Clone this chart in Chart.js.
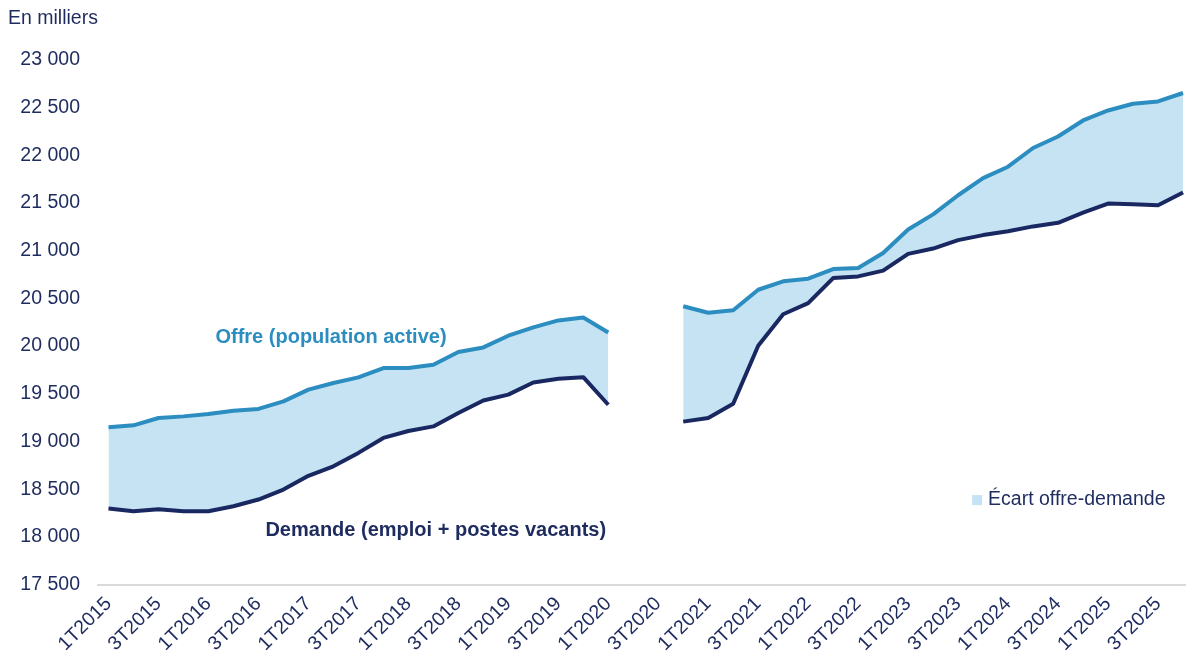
<!DOCTYPE html>
<html lang="fr">
<head>
<meta charset="utf-8">
<title>Offre et demande de travail</title>
<script src="https://cdn.jsdelivr.net/npm/chart.js@4.4.1/dist/chart.umd.min.js"></script>
<style>
  html, body { margin: 0; padding: 0; background: #fff; overflow: hidden; }
  #myChart { display: block; }
</style>
</head>
<body>
<canvas id="myChart" width="1186" height="654"></canvas>
<script>
'use strict';

// trimestres 1T2015 ... 4T2025
let years = [2015, 2016, 2017, 2018, 2019, 2020, 2021, 2022, 2023, 2024, 2025];
let quarters = [];
for (let i = 0; i < years.length; i++) {
    for (let q = 1; q <= 4; q++) {
        quarters.push(q + 'T' + years[i]);
    }
}

// en milliers, pas de donnees 2T2020 et 3T2020
let offre = [19148, 19169, 19246, 19263, 19288, 19323, 19341, 19420, 19543, 19613, 19672, 19770,
    19770, 19805, 19938, 19986, 20109, 20196, 20269, 20300, 20143, null, null, 20418,
    20350, 20376, 20591, 20679, 20707, 20808, 20819, 20977, 21223, 21381, 21582, 21761,
    21881, 22077, 22198, 22366, 22471, 22541, 22566, 22654];

let demande = [18296, 18268, 18290, 18268, 18268, 18320, 18391, 18495, 18640, 18739, 18880, 19037,
    19110, 19158, 19299, 19430, 19491, 19619, 19658, 19674, 19385, null, null, 19208,
    19245, 19395, 20004, 20334, 20450, 20713, 20731, 20791, 20967, 21023, 21111, 21164,
    21205, 21255, 21293, 21399, 21494, 21487, 21477, 21610];

let yMin = 17500;
let yMax = 23000;
let yStep = 500;

let navy = '#1E2B5E';
let blue = '#2B8DC0';
let dark = '#1A2862';
let ecart = '#C5E3F3';
let fontName = '"Liberation Sans", Arial, Helvetica, sans-serif';

function formatNb(v) {
    return String(v).replace(/\B(?=(\d{3})+(?!\d))/g, ' ');
}

function toPoints(arr) {
    let pts = [];
    for (let i = 0; i < arr.length; i++) {
        pts.push({ x: i, y: arr[i] });
    }
    return pts;
}

let textes = {
    id: 'textes',
    afterDraw(chart) {
        let ctx = chart.ctx;
        let x = chart.scales.x;
        let y = chart.scales.y;
        ctx.save();
        ctx.textBaseline = 'middle';
        ctx.textAlign = 'left';

        ctx.font = '19.5px ' + fontName;
        ctx.fillStyle = navy;
        ctx.fillText('En milliers', 8, 19);

        ctx.font = 'bold 20px ' + fontName;
        ctx.fillStyle = blue;
        ctx.fillText('Offre (population active)', x.getPixelForValue(4.28), y.getPixelForValue(20090));

        ctx.fillStyle = navy;
        ctx.fillText('Demande (emploi + postes vacants)', x.getPixelForValue(6.28), y.getPixelForValue(18070));

        // legende
        let lx = x.getPixelForValue(34.56);
        let ly = y.getPixelForValue(18385);
        ctx.fillStyle = ecart;
        ctx.fillRect(lx, ly - 5, 10, 10);
        ctx.font = '19.5px ' + fontName;
        ctx.fillStyle = navy;
        ctx.fillText('\u00c9cart offre-demande', lx + 16, ly);
        ctx.restore();
    }
};

let ctx = document.getElementById('myChart').getContext('2d');
let myChart = new Chart(ctx, {
    type: 'line',
    data: {
        datasets: [{
            label: 'Offre (population active)',
            data: toPoints(offre),
            borderColor: blue,
            backgroundColor: ecart,
            borderWidth: 4,
            borderJoinStyle: 'round',
            pointRadius: 0,
            tension: 0,
            spanGaps: false,
            fill: '+1'
        }, {
            label: 'Demande (emploi + postes vacants)',
            data: toPoints(demande),
            borderColor: dark,
            borderWidth: 4,
            borderJoinStyle: 'round',
            pointRadius: 0,
            tension: 0,
            spanGaps: false,
            fill: false
        }]
    },
    options: {
        responsive: false,
        animation: false,
        devicePixelRatio: 1,
        layout: { padding: { top: 60, right: 0, left: 0, bottom: 0 } },
        plugins: {
            legend: { display: false },
            tooltip: { enabled: false },
            filler: { drawTime: 'beforeDatasetsDraw' }
        },
        scales: {
            x: {
                type: 'linear',
                min: -0.42,
                max: 43.12,
                grid: { display: false, drawTicks: false },
                border: { display: true, color: '#D9D9D9', width: 2 },
                afterFit: function (scale) { scale.height = 69.5; },
                ticks: {
                    stepSize: 2,
                    includeBounds: false,
                    autoSkip: false,
                    maxRotation: 45,
                    minRotation: 45,
                    padding: 8,
                    color: navy,
                    font: { family: fontName, size: 19.5 },
                    callback: function (val) {
                        return Number.isInteger(val) ? quarters[val] : '';
                    }
                }
            },
            y: {
                min: yMin,
                max: yMax,
                grid: { display: false, drawTicks: false },
                border: { display: false },
                afterFit: function (scale) { scale.width = 98; },
                ticks: {
                    stepSize: yStep,
                    padding: 18,
                    color: navy,
                    font: { family: fontName, size: 19.5 },
                    callback: function (v) { return formatNb(v); }
                }
            }
        }
    },
    plugins: [textes]
});
</script>
</body>
</html>
